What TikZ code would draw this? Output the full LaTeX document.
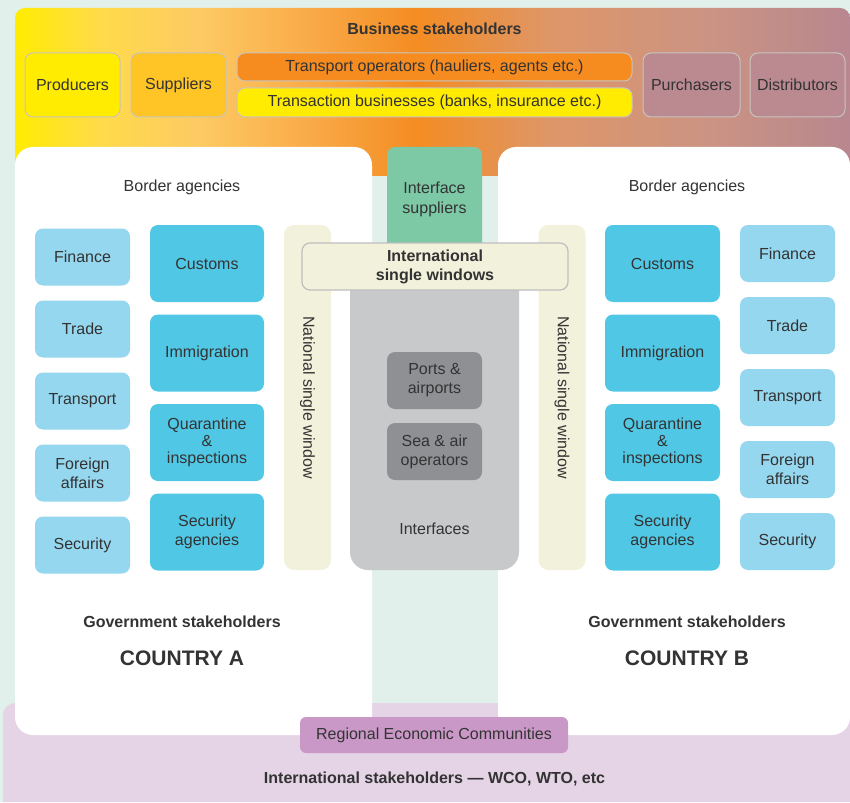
\documentclass[tikz,border=0pt]{standalone}
\usepackage{fontspec}
\setmainfont{Liberation Sans}
\usepackage{xcolor}
\usepackage{tikz}
\usetikzlibrary{positioning}
\definecolor{mint}{RGB}{225,240,234}
\definecolor{lilac}{RGB}{228,212,230}
\definecolor{orchid}{RGB}{202,152,199}
\definecolor{lemon}{RGB}{255,236,0}
\definecolor{marigold}{RGB}{255,196,37}
\definecolor{tangerine}{RGB}{246,139,31}
\definecolor{mauve}{RGB}{186,138,144}
\definecolor{sky}{RGB}{149,215,239}
\definecolor{cyanblue}{RGB}{80,200,229}
\definecolor{cream}{RGB}{242,241,220}
\definecolor{jade}{RGB}{125,200,165}
\definecolor{silver}{RGB}{200,201,203}
\definecolor{slate}{RGB}{143,144,148}
\definecolor{ink}{RGB}{51,51,51}
\definecolor{edge}{RGB}{200,196,190}
\definecolor{isedge}{RGB}{190,190,190}
\definecolor{gradA}{RGB}{255,236,0}
\definecolor{gradB}{RGB}{255,219,74}
\definecolor{gradC}{RGB}{253,202,99}
\definecolor{gradD}{RGB}{249,169,71}
\definecolor{gradE}{RGB}{244,140,34}
\definecolor{gradF}{RGB}{222,150,104}
\definecolor{gradG}{RGB}{204,148,130}
\definecolor{gradH}{RGB}{184,135,143}
\pgfdeclarehorizontalshading{bizgrad}{100bp}{color(0bp)=(gradA); color(25bp)=(gradA); color(30bp)=(gradB); color(36bp)=(gradC); color(43bp)=(gradD); color(49bp)=(gradE); color(57bp)=(gradF); color(66bp)=(gradG); color(75bp)=(gradH); color(100bp)=(gradH)}
\newcommand{\bodyfont}{\fontsize{16}{19}\selectfont}
\newcommand{\headfont}{\fontsize{16}{19}\selectfont\bfseries}
\newcommand{\countryfont}{\fontsize{21}{25}\selectfont\bfseries}
\tikzset{
    bizbox/.style={rectangle, rounded corners=8pt, draw=edge, line width=1pt, text centered, align=center, text=ink, font=\bodyfont, inner sep=2pt},
    agency/.style={rectangle, rounded corners=8pt, minimum width=95pt, minimum height=57pt, text centered, align=center, fill=sky, text=ink, font=\bodyfont},
    coreagency/.style={rectangle, rounded corners=8pt, minimum width=115pt, minimum height=77pt, text centered, align=center, fill=cyanblue, text=ink, font=\bodyfont},
    nsw/.style={rectangle, rounded corners=10pt, minimum width=345pt, minimum height=47pt, fill=cream, text=ink, font=\bodyfont, rotate=-90},
    countrybox/.style={rectangle, rounded corners=18pt, fill=white},
    hub/.style={rectangle, rounded corners=8pt, minimum width=95pt, minimum height=57pt, text centered, align=center, fill=slate, text=ink, font=\bodyfont},
    caption/.style={text=ink, font=\bodyfont, align=center},
    heading/.style={text=ink, font=\headfont, align=center}
}

\begin{document}
\begin{tikzpicture}[x=1pt, y=-1pt]
    \useasboundingbox (0,0) rectangle (850,802);
    % Background bands
    \fill[mint] (0,0) rectangle (850,802);
    \path[shading=bizgrad, rounded corners=10pt] (15,8) rectangle (850,176);
    \fill[lilac] (3,802) {[rounded corners=12pt] -- (3,703) -- (850,703)} -- (850,802) -- cycle;

    % Business stakeholders
    \node[heading] (business) at (434.5,29) {Business stakeholders};
    \node[bizbox, fill=lemon, minimum width=95pt, minimum height=64pt] (producers) at (72.5,85) {Producers};
    \node[bizbox, fill=marigold, minimum width=95pt, minimum height=64pt] (suppliers) at (178.5,85) {Suppliers};
    \node[bizbox, fill=tangerine, minimum width=395pt, minimum height=28pt] (transport) at (434.5,67) {Transport operators (hauliers, agents etc.)};
    \node[bizbox, fill=lemon, minimum width=395pt, minimum height=29pt] (transaction) at (434.5,102.5) {Transaction businesses (banks, insurance etc.)};
    \node[bizbox, fill=mauve, minimum width=97pt, minimum height=64pt] (purchasers) at (691.5,85) {Purchasers};
    \node[bizbox, fill=mauve, minimum width=95pt, minimum height=64pt] (distributors) at (797.5,85) {Distributors};

    % Countries
    \node[countrybox, minimum width=357pt, minimum height=588pt] (countryA) at (193.5,441) {};
    \node[countrybox, minimum width=352pt, minimum height=588pt] (countryB) at (674,441) {};
    \node[caption] (borderA) at (182,187) {Border agencies};
    \node[caption] (borderB) at (687,187) {Border agencies};
    \node[heading] (govA) at (182,622) {Government stakeholders};
    \node[heading] (govB) at (687,622) {Government stakeholders};
    \node[text=ink, font=\countryfont] (nameA) at (182,658) {COUNTRY A};
    \node[text=ink, font=\countryfont] (nameB) at (687,658) {COUNTRY B};

    % Country A agencies
    \node[agency] (financeA) at (82.5,257) {Finance};
    \node[agency] (tradeA) at (82.5,329) {Trade};
    \node[agency] (transportA) at (82.5,401) {Transport};
    \node[agency] (foreignA) at (82.5,473) {Foreign\\affairs};
    \node[agency] (securityA) at (82.5,545) {Security};
    \node[coreagency, minimum width=114pt] (customsA) at (207,263.5) {Customs};
    \node[coreagency, minimum width=114pt] (immigrationA) at (207,353) {Immigration};
    \node[coreagency, minimum width=114pt] (quarantineA) at (207,442.5) {Quarantine\\[-2pt]\&\\[-2pt]inspections};
    \node[coreagency, minimum width=114pt] (secagenciesA) at (207,532) {Security\\agencies};
    \node[nsw] (nswA) at (307.5,397.5) {National single window};

    % Country B agencies
    \node[nsw] (nswB) at (562,397.5) {National single window};
    \node[coreagency] (customsB) at (662.5,263.5) {Customs};
    \node[coreagency] (immigrationB) at (662.5,353) {Immigration};
    \node[coreagency] (quarantineB) at (662.5,442.5) {Quarantine\\[-2pt]\&\\[-2pt]inspections};
    \node[coreagency] (secagenciesB) at (662.5,532) {Security\\agencies};
    \node[agency] (financeB) at (787.5,253.5) {Finance};
    \node[agency] (tradeB) at (787.5,325.5) {Trade};
    \node[agency] (transportB) at (787.5,397.5) {Transport};
    \node[agency] (foreignB) at (787.5,469.5) {Foreign\\affairs};
    \node[agency] (securityB) at (787.5,541.5) {Security};

    % Shared interfaces
    \node[rectangle, rounded corners=8pt, fill=jade, minimum width=95pt, minimum height=104pt, text=ink, font=\fontsize{16}{20}\selectfont, align=center] (intsuppliers) at (434.5,199) {Interface\\suppliers};
    \node[rectangle, rounded corners=18pt, fill=silver, minimum width=169pt, minimum height=318pt] (interfaces) at (434.5,411) {};
    \node[rectangle, rounded corners=8pt, fill=cream, draw=isedge, line width=1.2pt, minimum width=266pt, minimum height=47pt, text=ink, font=\headfont, align=center] (isw) at (435,266.5) {International\\single windows};
    \node[hub] (ports) at (434.5,380.5) {Ports \&\\airports};
    \node[hub] (operators) at (434.5,451.5) {Sea \& air\\operators};
    \node[caption] (interfaceslbl) at (434.5,529) {Interfaces};

    % International stakeholders
    \node[rectangle, rounded corners=6pt, fill=orchid, minimum width=268pt, minimum height=36pt, text=ink, font=\bodyfont] (regional) at (434,735) {Regional Economic Communities};
    \node[heading] (international) at (434.5,779) {International stakeholders --- WCO, WTO, etc};
\end{tikzpicture}
\end{document}
